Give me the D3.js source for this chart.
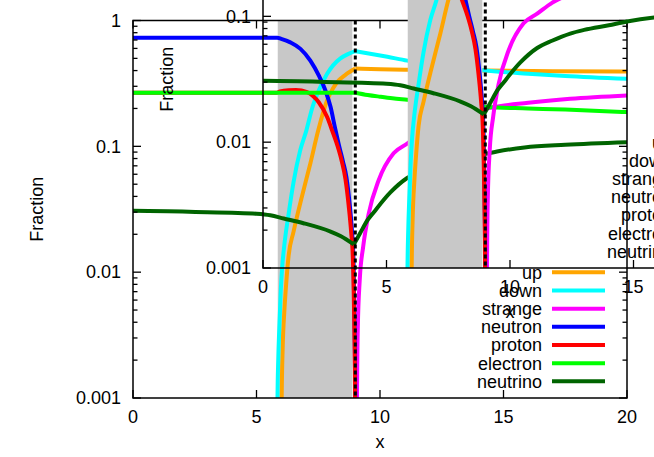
<!DOCTYPE html>
<html lang="en">
<head>
<meta charset="UTF-8">
<title>Fraction vs x</title>
<script src="https://d3js.org/d3.v7.min.js"></script>
<style>
  body { margin: 0; background: #fff; }
  svg { display: block; background: #fff; }
  text { font-family: "Liberation Sans", Arial, sans-serif; font-size: 18px; fill: #000; }
  .curve { fill: none; stroke-width: 4; stroke-linejoin: round; stroke-linecap: butt; }
  .frame { fill: none; stroke: #000; stroke-width: 1.5; }
  .tick { stroke: #000; stroke-width: 1.3; }
</style>
</head>
<body>
<svg id="chart"></svg>
<script>
  // tick values
  var xTicks = [0, 5, 10, 15, 20];
  var yTicks = [1, 0.1, 0.01, 0.001];
  var yTickLabels = ["1", "0.1", "0.01", "0.001"];

  // shaded mixed phase and the transition line
  var mixedPhase = [5.86, 8.88];
  var transitionX = 9.0;

  // series: [x, fraction]
  var names = ["up", "down", "strange", "neutron", "proton", "electron", "neutrino"];
  var up = [[6.0,1e-6],[6.02,0.001],[6.06,0.0025],[6.13,0.005],[6.2,0.008],[6.3,0.0135],[6.5,0.021],
            [6.84,0.04],[7.18,0.073],[7.5,0.134],[7.86,0.232],[8.1,0.29],[8.33,0.334],[8.6,0.37],
            [9.0,0.415],[10,0.41],[11,0.407],[12.5,0.403],[14.3,0.4],[17,0.395],[20,0.393]];
  var down = [[5.83,1e-6],[5.85,0.001],[5.88,0.002],[5.92,0.0035],[5.98,0.007],[6.04,0.011],[6.12,0.016],
              [6.3,0.029],[6.5,0.052],[6.77,0.093],[7.02,0.134],[7.25,0.2],[7.52,0.278],[7.86,0.377],
              [8.1,0.44],[8.4,0.5],[8.7,0.54],[9.0,0.57],[9.6,0.545],[10.3,0.515],[11.1,0.48],
              [12,0.455],[13,0.43],[14.3,0.4],[16,0.378],[17.5,0.362],[20,0.344]];
  var strange = [[9.05,1e-6],[9.07,0.001],[9.1,0.0035],[9.18,0.0087],[9.32,0.016],[9.54,0.029],
                 [9.95,0.054],[10.55,0.088],[11.1,0.105],[11.7,0.128],[12.5,0.152],[13.5,0.178],
                 [14.5,0.203],[16,0.222],[17.7,0.239],[20,0.254]];
  var neutron = [[0,0.73],[5.84,0.73],[6.0,0.715],[6.37,0.67],[6.78,0.595],[7.18,0.48],[7.52,0.366],
                 [7.79,0.278],[8.0,0.205],[8.18,0.14],[8.36,0.098],[8.5,0.076],[8.64,0.057],
                 [8.77,0.035],[8.86,0.022],[8.93,0.012],[8.97,0.0035],[9.0,0.001],[9.01,1e-6]];
  var proton = [[0,0.267],[5.8,0.267],[5.95,0.273],[6.3,0.279],[6.6,0.28],[7.05,0.27],[7.3,0.25],
                [7.52,0.224],[7.86,0.171],[8.06,0.134],[8.32,0.095],[8.46,0.075],[8.6,0.055],
                [8.73,0.034],[8.83,0.021],[8.9,0.013],[8.96,0.0035],[8.99,0.001],[9.0,1e-6]];
  var electron = [[0,0.267],[9.0,0.267],[9.5,0.256],[10,0.248],[10.5,0.241],[11.1,0.235],[12,0.226],
                  [13,0.215],[14.3,0.205],[16,0.2],[17.5,0.196],[20,0.187]];
  var neutrino = [[0,0.0307],[2,0.0303],[3,0.0299],[4,0.0296],[5,0.0291],[5.56,0.0283],[6.1,0.0267],
                  [6.9,0.0245],[8.0,0.021],[8.4,0.0194],[8.94,0.0166],[9.2,0.0205],[9.5,0.026],
                  [9.75,0.03],[10.42,0.043],[11.1,0.056],[11.7,0.064],[12.44,0.073],[13,0.078],
                  [14,0.085],[14.74,0.091],[15.85,0.098],[17.5,0.103],[20,0.108]];
  var series = [up, down, strange, neutron, proton, electron, neutrino];
  var colors = ["#ffa500", "#00ffff", "#ff00ff", "#0000ff", "#ff0000", "#00ff00", "#006400"];

  var svgWidth = 654;
  var svgHeight = 457;
  var margin = { top: 20.5, right: 27, bottom: 59, left: 133 };
  var width = svgWidth - margin.left - margin.right;
  var height = svgHeight - margin.top - margin.bottom;

  var svg = d3.select("#chart")
          .attr("width", svgWidth)
          .attr("height", svgHeight);

  var x = d3.scaleLinear().domain([0, 20]).range([0, width]);
  var y = d3.scaleLog().domain([0.001, 1]).range([height, 0]);

  var line = d3.line()
          .x(function(d) { return x(d[0]); })
          .y(function(d) { return y(d[1]); })
          .curve(d3.curveMonotoneX);

  // split a series at the phase transition so the kink stays sharp
  function pieces(pts) {
    var a = pts.filter(function(d) { return d[0] <= transitionX; });
    var b = pts.filter(function(d) { return d[0] > transitionX; });
    if (a.length && b.length) b.unshift(a[a.length - 1]);
    return [a, b].filter(function(p) { return p.length > 1; });
  }

  // minor ticks of the log axis
  var minorY = [];
  [-3, -2, -1].forEach(function(k) {
    for (var m = 2; m <= 9; m++) minorY.push(m * Math.pow(10, k));
  });

  function drawPlot(dx, dy, id) {
    var g = svg.append("g")
            .attr("transform", "translate(" + (margin.left + dx) + "," + (margin.top + dy) + ")");

    g.append("clipPath").attr("id", id)
            .append("rect").attr("width", width).attr("height", height);

    var inner = g.append("g").attr("clip-path", "url(#" + id + ")");

    inner.append("rect")
            .attr("x", x(mixedPhase[0]))
            .attr("width", x(mixedPhase[1]) - x(mixedPhase[0]))
            .attr("y", 0)
            .attr("height", height)
            .attr("fill", "#c8c8c8");

    series.forEach(function(s, i) {
      pieces(s).forEach(function(p) {
        inner.append("path")
                .attr("class", "curve")
                .attr("d", line(p))
                .attr("stroke", colors[i]);
      });
    });

    inner.append("line")
            .attr("x1", x(transitionX)).attr("x2", x(transitionX))
            .attr("y1", 0).attr("y2", height)
            .attr("stroke", "#000")
            .attr("stroke-width", 3)
            .attr("stroke-dasharray", "4,3");

    // frame and ticks
    g.append("rect").attr("class", "frame").attr("width", width).attr("height", height);

    xTicks.forEach(function(t) {
      g.append("line").attr("class", "tick")
              .attr("x1", x(t)).attr("x2", x(t)).attr("y1", height).attr("y2", height - 8);
      g.append("line").attr("class", "tick")
              .attr("x1", x(t)).attr("x2", x(t)).attr("y1", 0).attr("y2", 8);
      g.append("text")
              .attr("x", x(t)).attr("y", height + 25)
              .attr("text-anchor", "middle")
              .text(t);
    });

    yTicks.forEach(function(t, i) {
      g.append("line").attr("class", "tick")
              .attr("x1", 0).attr("x2", 8).attr("y1", y(t)).attr("y2", y(t));
      g.append("line").attr("class", "tick")
              .attr("x1", width).attr("x2", width - 8).attr("y1", y(t)).attr("y2", y(t));
      g.append("text")
              .attr("x", -12).attr("y", y(t))
              .attr("dy", "0.35em")
              .attr("text-anchor", "end")
              .text(yTickLabels[i]);
    });

    minorY.forEach(function(t) {
      g.append("line").attr("class", "tick")
              .attr("x1", 0).attr("x2", 4.5).attr("y1", y(t)).attr("y2", y(t));
      g.append("line").attr("class", "tick")
              .attr("x1", width).attr("x2", width - 4.5).attr("y1", y(t)).attr("y2", y(t));
    });

    g.append("text")
            .attr("transform", "translate(-90," + (height / 2) + ") rotate(-90)")
            .attr("text-anchor", "middle")
            .text("Fraction");

    g.append("text")
            .attr("x", width / 2).attr("y", height + 50)
            .attr("text-anchor", "middle")
            .text("x");

    // legend
    names.forEach(function(n, i) {
      var ry = 251.8 + i * 18.17;
      g.append("text")
              .attr("x", 409).attr("y", ry + 6.5)
              .attr("text-anchor", "end")
              .text(n);
      g.append("line")
              .attr("x1", 419).attr("x2", 472)
              .attr("y1", ry).attr("y2", ry)
              .attr("stroke", colors[i])
              .attr("stroke-width", 4);
    });
  }

  drawPlot(0, 0, "clip-main");
  drawPlot(130, -130, "clip-inset");
</script>
</body>
</html>
